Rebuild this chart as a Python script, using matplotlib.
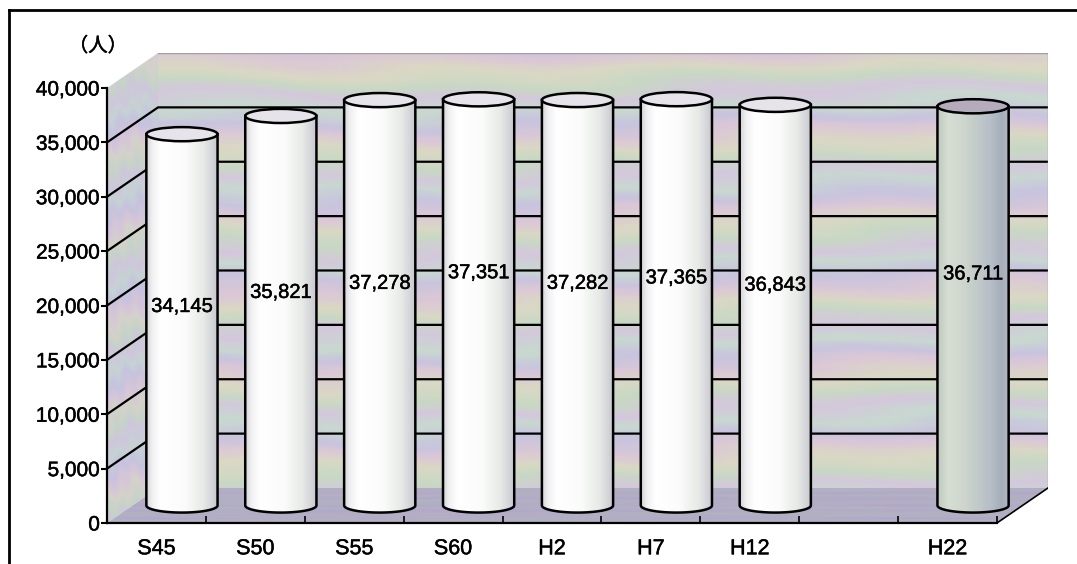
import numpy as np
import matplotlib
matplotlib.use('Agg')
import matplotlib.pyplot as plt
import matplotlib.patheffects as pe
from matplotlib.colors import LinearSegmentedColormap
from matplotlib.patches import Ellipse, Polygon, PathPatch
from matplotlib.path import Path
from matplotlib.lines import Line2D

plt.rcParams['font.family'] = ['Liberation Sans', 'Noto Sans CJK JP', 'DejaVu Sans']

# Data: population by census year (H17 slot left empty)
years  = ['S45', 'S50', 'S55', 'S60', 'H2', 'H7', 'H12', '', 'H22']
people = [34145, 35821, 37278, 37351, 37282, 37365, 36843, None, 36711]
yticks = list(range(0, 40001, 5000))
unit   = '（人）'

# 3D box layout
ymax    = 40000
depth_x = 0.516   # depth offset in category units
depth_y = 3220    # depth offset in value units
radius  = 0.36
cap_h   = 1300    # height of the cylinder caps in value units
label_frac = [0.536, 0.547, 0.548, 0.573, 0.548, 0.56, 0.55, None, 0.58]

bold = [pe.withStroke(linewidth=0.35, foreground='black')]

pastel_cmap = LinearSegmentedColormap.from_list(
    'pastel', ['#d4c8dc', '#c8d8c4', '#dad8c4', '#dcc8d6', '#c8c4de',
               '#c8d8d0', '#d4c8dc'])


def pastel(w, h, phase, scale=1.0):
    yy, xx = np.mgrid[0:1:h*1j, 0:1:w*1j]
    t = (yy*5.5 + 0.08*np.sin(xx*5 + phase)
         + 0.05*np.sin(xx*23 + yy*17 + 2*phase)
         + 0.04*np.sin(yy*60 + xx*7 + phase)
         + 0.012*np.sin(yy*260 + xx*9))
    return np.clip(pastel_cmap(t % 1)[..., :3]*scale, 0, 1)


def gradient(stops):
    u = np.linspace(0, 1, 64)
    pos = [s[0] for s in stops]
    rgb = np.array([[s[1][k]/255 for k in range(3)] for s in stops])
    img = np.stack([np.interp(u, pos, rgb[:, k]) for k in range(3)], axis=-1)
    return img[np.newaxis, :, :]


white_body = gradient([(0, (214, 214, 218)), (0.08, (240, 240, 242)),
                       (0.2, (255, 255, 255)), (0.55, (250, 251, 250)),
                       (0.8, (232, 234, 232)), (1.0, (200, 200, 208))])
grey_body = gradient([(0, (190, 200, 192)), (0.15, (214, 222, 212)),
                      (0.4, (204, 212, 204)), (0.75, (182, 190, 200)),
                      (0.9, (166, 174, 188)), (1.0, (178, 182, 194))])

n = len(years)
fig = plt.figure(figsize=(10.77, 5.64), dpi=100)
ax = fig.add_axes([107/1077, 41/564, 941/1077, 470/564])
ax.patch.set_visible(False)

# back wall
ax.imshow(pastel(400, 300, 0.0), extent=(depth_x, n + depth_x, depth_y, ymax + depth_y),
          aspect='auto', origin='lower', zorder=0, interpolation='bilinear')
# side wall, a bit bluer
side_img = 0.8*pastel(60, 300, 1.7) + 0.2*np.array([0.74, 0.74, 0.88])
side = ax.imshow(side_img, extent=(0, depth_x, 0, ymax + depth_y),
                 aspect='auto', origin='lower', zorder=0, interpolation='bilinear')
side.set_clip_path(Polygon([(0, 0), (0, ymax), (depth_x, ymax + depth_y), (depth_x, depth_y)],
                           transform=ax.transData))
# floor
floor_img = 0.5*pastel(400, 20, 2.5) + 0.5*np.array([0.58, 0.55, 0.72])
floor = ax.imshow(floor_img, extent=(0, n + depth_x, 0, depth_y),
                  aspect='auto', origin='lower', zorder=0, interpolation='bilinear')
floor.set_clip_path(Polygon([(0, 0), (n, 0), (n + depth_x, depth_y), (depth_x, depth_y)],
                            transform=ax.transData))

# grid lines on side and back walls
for v in yticks[1:-1]:
    ax.plot([0, depth_x, n + depth_x], [v, v + depth_y, v + depth_y],
            color='black', lw=1.6, zorder=1)
ax.plot([depth_x, n + depth_x, n + depth_x], [ymax + depth_y, ymax + depth_y, depth_y],
        color='#a0a0a0', lw=1, zorder=1)
ax.plot([n, n + depth_x], [0, depth_y], color='black', lw=1.2, zorder=1)

# cylinders
for i, v in enumerate(people):
    if v is None:
        continue
    cx = i + 0.5 + depth_x/2
    base = depth_y/2
    top = base + v
    theta = np.linspace(np.pi, 2*np.pi, 40)
    xs = [cx - radius] + list(cx + radius*np.cos(theta)) + [cx + radius]
    ys = [top] + list(base + cap_h/2*np.sin(theta)) + [top]
    clip = PathPatch(Path(list(zip(xs, ys)) + [(xs[0], ys[0])], closed=True),
                     transform=ax.transData)
    highlight = years[i] == 'H22'
    body = ax.imshow(grey_body if highlight else white_body,
                     extent=(cx - radius, cx + radius, base - cap_h, top),
                     aspect='auto', origin='lower', zorder=2, interpolation='bilinear')
    body.set_clip_path(clip)
    ax.plot(xs, ys, color='black', lw=1.8, zorder=3)
    ax.add_patch(Ellipse((cx, top), 2*radius, cap_h,
                         facecolor='#b4acbc' if highlight else '#e6e4ea',
                         edgecolor='black', lw=1.8, zorder=4))
    ax.text(cx, base + v*label_frac[i], f'{v:,}', ha='center', va='center',
            fontsize=14.5, zorder=5, path_effects=bold)

# axes
ax.set_xlim(0, n + depth_x)
ax.set_ylim(0, ymax + depth_y)
ax.set_yticks(yticks, [f'{v:,}' for v in yticks], fontsize=15)
ax.tick_params(axis='y', direction='out', length=4, width=1.5, pad=1)
ax.set_xticks([i + 0.5 for i in range(n)], years, fontsize=15.5)
ax.set_xticks(range(1, n + 1), minor=True)
ax.tick_params(axis='x', which='major', length=0, pad=11)
ax.tick_params(axis='x', which='minor', direction='in', length=5, width=1.2)
for lbl in ax.get_xticklabels() + ax.get_yticklabels():
    lbl.set_path_effects(bold)
for s in ['top', 'right']:
    ax.spines[s].set_visible(False)
ax.spines['left'].set_bounds(0, ymax)
ax.spines['bottom'].set_bounds(0, n)
ax.spines['left'].set_linewidth(1.6)
ax.spines['bottom'].set_linewidth(1.6)

fig.text(98/1077, 1 - 46/564, unit, ha='center', va='center', fontsize=14,
         family=['Noto Sans CJK JP'], path_effects=bold)

# outer frame
fig.add_artist(Line2D([9/1077, 9/1077], [0, 1 - 10/564], color='black', lw=2,
                      transform=fig.transFigure))
fig.add_artist(Line2D([9/1077, 1], [1 - 10/564, 1 - 10/564], color='black', lw=2,
                      transform=fig.transFigure))

fig.savefig('out.png', dpi=100)
